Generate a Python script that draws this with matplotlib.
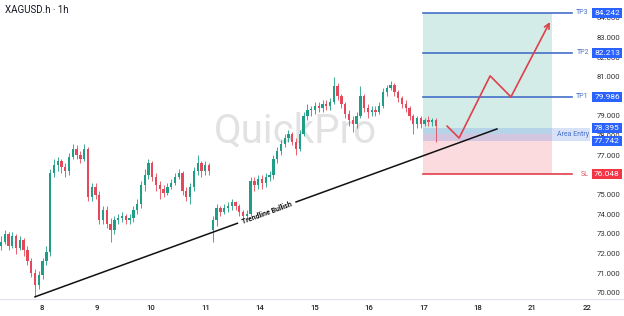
import numpy as np
import matplotlib
matplotlib.use('Agg')
import matplotlib.pyplot as plt
import matplotlib.transforms as mtransforms

plt.rcParams['font.family'] = ['Roboto', 'DejaVu Sans']

# ====================
# DATOS (velas de 2h, eje x en indices de vela)
# ====================
t_start = -9
first_open = 72.4
gap_index = 56          # apertura con gap
gap_open = 73.2

closes = [72.6, 73.0, 72.4, 72.9, 72.3, 72.7, 72.2, 71.6, 71.0, 70.4,
          70.9, 71.6, 72.1, 76.1, 76.5, 76.7, 76.4, 76.2, 76.9, 77.3,
          77.0, 76.8, 77.3, 74.9, 75.4, 75.0, 73.7, 74.2, 73.5, 73.2,
          73.7, 73.8, 73.9, 73.7, 73.8, 74.2, 74.5, 75.5, 76.0, 76.6,
          75.9, 75.5, 75.3, 75.1, 75.4, 75.6, 75.9, 76.1, 75.2, 74.9,
          75.4, 76.2, 76.6, 76.2, 76.5, 76.2,
          73.7, 74.3, 74.1, 74.3, 74.4, 74.6, 74.4, 74.1, 73.9, 74.0,
          75.7, 75.5, 75.8, 75.6, 75.9, 76.0, 76.8, 77.2, 77.6, 77.9,
          78.1, 77.7, 77.3, 78.1, 79.0, 79.3, 79.3, 79.5, 79.4, 79.6,
          79.5, 79.7, 80.5, 80.0, 79.6, 79.1, 78.8, 78.6, 79.0, 80.0,
          79.4, 79.2, 79.3, 79.2, 79.5, 80.2, 80.4, 80.6, 80.2, 79.9,
          79.6, 79.4, 79.0, 78.6, 78.9, 78.6, 78.8, 78.7, 78.8, 78.5]

highs = [72.9, 73.2, 73.1, 73.1, 73.0, 72.9, 72.8, 72.4, 71.8, 71.2,
         71.1, 71.8, 72.4, 76.3, 76.8, 76.9, 76.8, 76.6, 77.1, 77.6,
         77.5, 77.2, 77.6, 77.4, 75.6, 75.6, 75.2, 74.4, 74.4, 73.8,
         73.9, 74.0, 74.1, 74.0, 74.0, 74.4, 74.8, 75.7, 76.3, 76.8,
         76.7, 76.1, 75.7, 75.5, 75.6, 75.8, 76.1, 76.3, 76.2, 75.4,
         75.6, 76.4, 77.0, 76.7, 76.7, 76.6,
         73.9, 74.5, 74.4, 74.5, 74.6, 74.8, 74.7, 74.5, 74.2, 74.2,
         75.9, 75.9, 76.0, 76.0, 76.1, 76.2, 77.0, 77.4, 77.8, 78.1,
         78.3, 78.2, 77.9, 78.3, 79.2, 79.6, 79.5, 79.7, 79.7, 79.8,
         79.8, 79.9, 81.0, 80.7, 80.1, 79.7, 79.3, 79.0, 79.2, 80.5,
         80.1, 79.6, 79.5, 79.5, 79.7, 80.4, 80.6, 80.8, 80.7, 80.3,
         80.0, 79.8, 79.5, 79.1, 79.0, 79.0, 78.9, 79.0, 78.9, 78.9]

lows = [72.2, 72.5, 72.2, 72.3, 72.0, 72.2, 71.9, 71.4, 70.8, 69.8,
        70.2, 70.7, 71.4, 71.9, 75.9, 76.2, 76.1, 75.9, 76.0, 76.8,
        76.8, 76.6, 76.7, 74.7, 74.7, 74.8, 73.5, 73.5, 73.3, 72.6,
        73.0, 73.5, 73.6, 73.5, 73.5, 73.6, 74.0, 74.3, 75.2, 75.8,
        75.7, 75.2, 74.8, 74.9, 75.0, 75.3, 75.5, 75.8, 75.0, 74.7,
        74.5, 75.2, 76.0, 75.9, 76.0, 76.0,
        72.6, 73.4, 73.9, 74.0, 74.1, 74.2, 74.2, 73.9, 73.7, 73.7,
        73.9, 75.2, 75.3, 75.3, 75.4, 75.7, 75.8, 76.6, 77.0, 77.4,
        77.7, 77.5, 77.0, 77.2, 78.0, 78.8, 79.0, 79.1, 79.2, 79.2,
        79.3, 79.3, 79.6, 79.8, 79.4, 78.9, 78.5, 78.2, 78.4, 78.9,
        79.2, 78.9, 79.0, 79.0, 79.1, 79.4, 80.0, 80.3, 80.0, 79.7,
        79.4, 79.2, 78.8, 78.1, 78.4, 78.4, 78.5, 78.5, 78.5, 77.7]

day_labels = ['8', '9', '10', '11', '14', '15', '16', '17', '18', '21', '22']
day_first, day_len = 1.85, 14.4

# escala de precios visible (80 y 76 quedan tapados por las etiquetas)
price_ticks = [70, 71, 72, 73, 74, 75, 77, 78, 79, 81, 82, 83, 84]

# niveles de la operacion
tp_levels = [79.986, 82.213, 84.242]
tp_names = ['TP1', 'TP2', 'TP3']
sl_level = 76.048
entry_level = 78.09
area_entry = [77.742, 78.395]

# trendline y trayectoria proyectada
trend_t = [0, 122.1]
trend_p = [69.8, 78.34]
path_t = [108.9, 112.1, 120.3, 125.8, 136.1]
path_p = [78.49, 77.88, 81.04, 79.97, 83.78]

zone_t0, zone_t1, line_t1, label_t = 102.6, 136.7, 141.9, 146.4

# ====================
# FIGURA
# ====================
green, red = '#1f9d87', '#e5485a'
blue = '#2962ff'

fig = plt.figure(figsize=(6.24, 3.16), dpi=100)
ax = fig.add_axes([0, 1 - 299 / 316, 590 / 624, 299 / 316])
ax.set_xlim(-9.25, 146.7)
ax.set_ylim(69.69, 84.90)

closes = np.array(closes)
opens = np.concatenate([[first_open], closes[:-1]])
opens[gap_index] = gap_open
t = np.arange(t_start, t_start + len(closes))
colors = np.where(closes >= opens, green, red)

ax.vlines(t, lows, highs, colors=colors, linewidth=0.6, zorder=3)
body = np.abs(closes - opens)
body = np.where(body < 0.04, 0.04, body)
ax.bar(t, body, bottom=np.minimum(opens, closes), width=0.62, color=colors,
       linewidth=0, zorder=4)

# marca de agua
ax.text(0.5, 0.522, 'QuickPro', transform=ax.transAxes, ha='center', va='baseline',
        fontsize=29, color='#e2e2e4', zorder=1)

# zonas TP / SL
ax.fill_between([zone_t0, zone_t1], entry_level, tp_levels[-1], color='#d4ece8', lw=0, zorder=0.5)
ax.fill_between([zone_t0, zone_t1], sl_level, entry_level, color='#fbdbde', lw=0, zorder=0.5)
ax.fill_between([zone_t0, 146.7], area_entry[0], area_entry[1], color='#4a7fe8', alpha=0.22,
                lw=0, zorder=0.6)

blend = mtransforms.blended_transform_factory(ax.transAxes, ax.transData)
box_kw = dict(transform=blend, ha='center', va='center', fontsize=6, color='white',
              clip_on=False, zorder=10)
for lvl, name in zip(tp_levels, tp_names):
    ax.plot([zone_t0, line_t1], [lvl, lvl], color='#4470c8', lw=1.2, zorder=5)
    ax.text(label_t, lvl, name, ha='right', va='center', fontsize=5, color='#4a72c9',
            clip_on=False, zorder=6)
    ax.text(607 / 590, lvl, f'{lvl:.3f}', bbox=dict(boxstyle='square,pad=0.25', fc=blue, ec='none'),
            **box_kw)

ax.plot([zone_t0, line_t1], [sl_level, sl_level], color='#e0404a', lw=1.2, zorder=5)
ax.text(label_t, sl_level, 'SL', ha='right', va='center', fontsize=5, color='#e0505a',
        clip_on=False, zorder=6)
ax.text(607 / 590, sl_level, f'{sl_level:.3f}',
        bbox=dict(boxstyle='square,pad=0.25', fc='#f23645', ec='none'), **box_kw)

ax.text(label_t, np.mean(area_entry), 'Area Entry', ha='right', va='center', fontsize=5,
        color='#4a72c9', clip_on=False, zorder=6)
for lvl in area_entry:
    ax.text(607 / 590, lvl, f'{lvl:.3f}', bbox=dict(boxstyle='square,pad=0.25', fc=blue, ec='none'),
            **box_kw)

# trendline con hueco para el texto
slope = (trend_p[1] - trend_p[0]) / (trend_t[1] - trend_t[0])
gap0, gap1 = 53.5, 69.0
ax.plot([trend_t[0], gap0], [trend_p[0], trend_p[0] + slope * gap0], color='#111111', lw=1.1, zorder=6)
ax.plot([gap1, trend_t[1]], [trend_p[0] + slope * gap1, trend_p[1]], color='#111111', lw=1.1, zorder=6)
p1 = ax.transData.transform((trend_t[0], trend_p[0]))
p2 = ax.transData.transform((trend_t[1], trend_p[1]))
angle = np.degrees(np.arctan2(p2[1] - p1[1], p2[0] - p1[0]))
mid = (gap0 + gap1) / 2
ax.text(mid, trend_p[0] + slope * mid, 'Trendline Bullish', rotation=angle, rotation_mode='anchor',
        ha='center', va='center', fontsize=5, fontweight='bold', color='#111111', zorder=6)

# trayectoria proyectada
ax.plot(path_t[:-1], path_p[:-1], color='#e0404a', lw=1.2, zorder=7, solid_capstyle='round')
ax.annotate('', xy=(path_t[-1], path_p[-1]), xytext=(path_t[-2], path_p[-2]),
            arrowprops=dict(arrowstyle='->', color='#e0404a', lw=1.2, mutation_scale=9,
                            shrinkA=0, shrinkB=0), zorder=7)

# ejes
for s in ax.spines.values():
    s.set_visible(False)
ax.yaxis.tick_right()
ax.set_yticks(price_ticks)
ax.set_yticklabels([f'{v:.3f}' for v in price_ticks])
ax.tick_params(axis='y', length=0, pad=5, labelsize=5.6, labelcolor='#333333')
ax.set_xticks([day_first + k * day_len for k in range(len(day_labels))])
ax.set_xticklabels(day_labels)
ax.tick_params(axis='x', length=0, pad=4, labelsize=5.6, labelcolor='#222222')
for lab in ax.get_xticklabels():
    lab.set_fontweight('medium')

fig.add_artist(plt.Line2D([0, 1], [1 - 299 / 316] * 2, transform=fig.transFigure,
                          color='#e0e3eb', lw=0.8))
fig.text(5 / 624, 1 - 10 / 316, 'XAGUSD.h · 1h', ha='left', va='center', fontsize=7, color='#131722')

plt.savefig('out.png', dpi=100)
